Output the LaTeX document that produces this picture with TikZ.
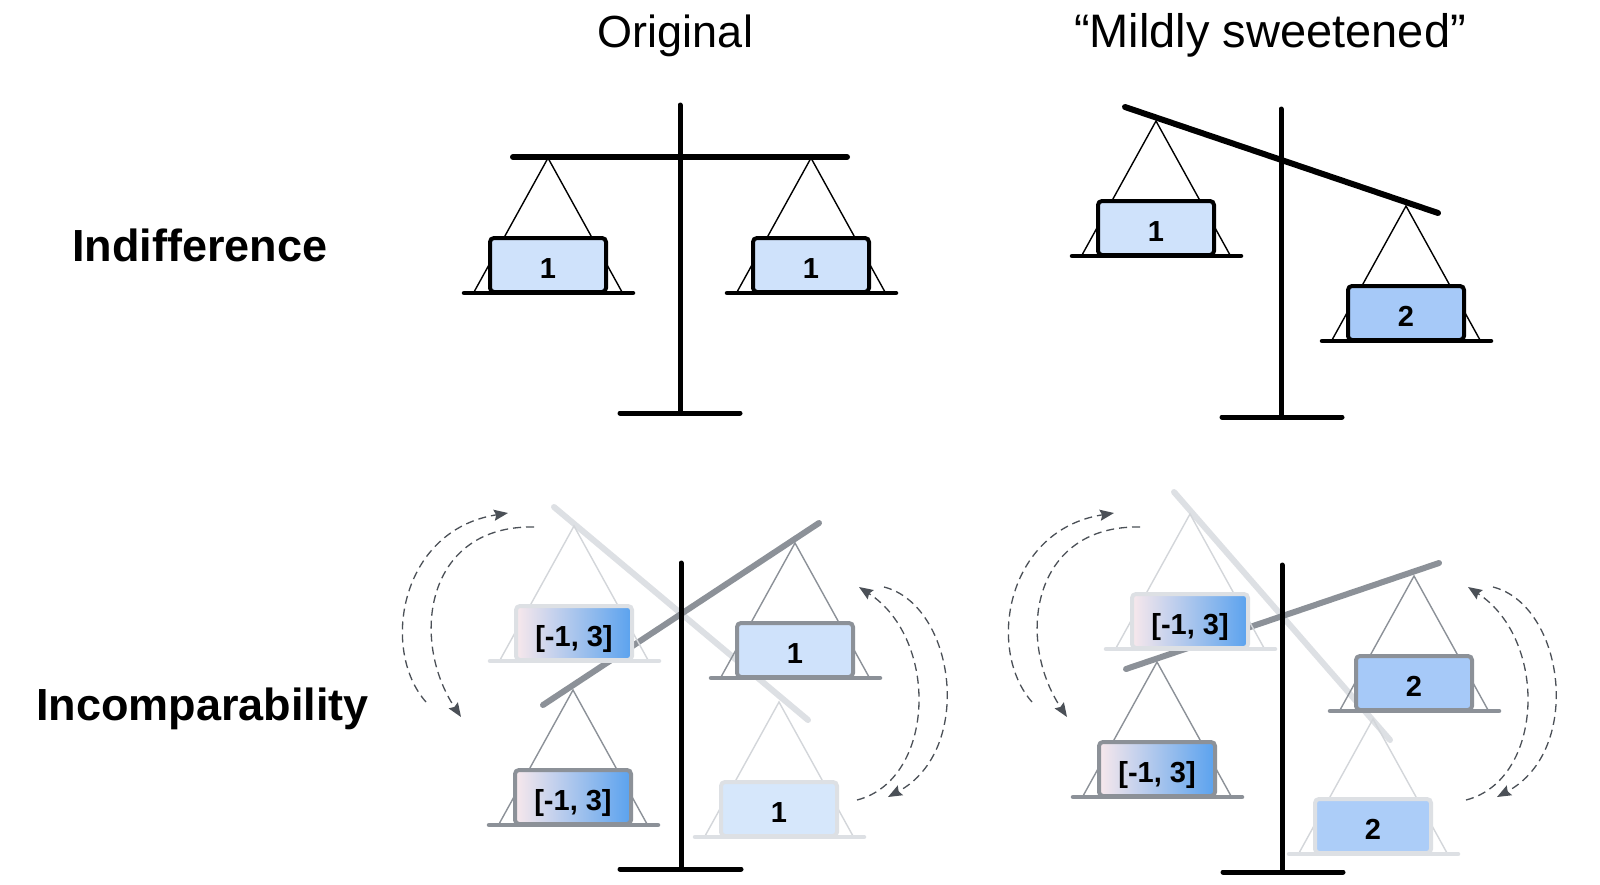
\documentclass[tikz,border=0pt]{standalone}
\usepackage{fontspec}
\setmainfont{Liberation Sans}
\usetikzlibrary{arrows.meta}
\definecolor{darkg}{HTML}{8C9198}
\definecolor{lightg}{HTML}{DDE0E4}
\definecolor{lightstr}{HTML}{D3D6DA}
\definecolor{boxone}{HTML}{CFE2FB}
\definecolor{boxonef}{HTML}{D6E7FB}
\definecolor{boxtwo}{HTML}{A6C9F8}
\definecolor{boxtwof}{HTML}{ACCDF8}
\definecolor{gpink}{HTML}{F8E8EC}
\definecolor{gmid}{HTML}{DCE7F8}
\definecolor{gblue}{HTML}{5AA2EE}
\definecolor{arrowc}{HTML}{4B5057}
\newcommand\drawpan[7]{%
  \draw[strline, draw=#4] (#1-74,#2+134) -- (#1,#2) -- (#1+74,#2+134);
  \draw[panbox, draw=#3, #5] (#1-58,#2+80) rectangle (#1+58,#2+134);
  \draw[platline, draw=#3] (#1-84,#2+135) -- (#1+85,#2+135);
  \node[boxlbl] (#7) at (#1,#2+120) {#6};
}
\newcommand\swaparrows[3]{%
  \coordinate (#3a) at (426+#1,702); \coordinate (#3b) at (508+#1,513);
  \draw[dasharr] (#3a) .. controls (380+#1,650) and (400+#1,530) .. (#3b);
  \coordinate (#3c) at (534+#1,527); \coordinate (#3d) at (461+#1,717);
  \draw[dasharr] (#3c) .. controls (425+#1,525) and (410+#1,640) .. (#3d);
  \coordinate (#3e) at (884+#2,587); \coordinate (#3f) at (888+#2,797);
  \draw[dasharr] (#3e) .. controls (955+#2,605) and (975+#2,750) .. (#3f);
  \coordinate (#3g) at (857+#2,800); \coordinate (#3h) at (859+#2,587);
  \draw[dasharr] (#3g) .. controls (935+#2,780) and (940+#2,640) .. (#3h);
}
\begin{document}
\begin{tikzpicture}[x=1bp,y=-1bp,
  strline/.style={line width=1.4bp},
  panbox/.style={line width=4bp, rounded corners=4bp},
  platline/.style={line width=4.5bp, line cap=round},
  boxlbl/.style={anchor=base, inner sep=0pt, font=\fontsize{29bp}{32bp}\selectfont\bfseries},
  beamline/.style={line width=6bp, line cap=round},
  postline/.style={line width=5bp, line cap=round, draw=black},
  grad/.style={left color=gpink, middle color=gmid, right color=gblue},
  titlelbl/.style={anchor=base, inner sep=0pt, font=\fontsize{45bp}{50bp}\selectfont},
  rowlbl/.style={anchor=base west, inner sep=0pt, font=\fontsize{45bp}{50bp}\selectfont\bfseries},
  dasharr/.style={draw=arrowc, line width=1.3bp, dash pattern=on 8bp off 5bp,
    -{Stealth[length=14bp,width=11bp,inset=2bp]}}
]
\fill[white] (0,0) rectangle (1600,884);
\useasboundingbox (0,0) rectangle (1600,884);

% labels
\node[titlelbl] (orig) at (675.5,47) {Original};
\node[titlelbl, font=\fontsize{47bp}{50bp}\selectfont] (mild) at (1270,47) {“Mildly sweetened”};
\node[rowlbl] (indiff) at (72,261) {Indifference};
\node[rowlbl] (incomp) at (36,720) {Incomparability};

% ---------- top-left: original indifference ----------
\draw[beamline, draw=black] (513,157) -- (847,157);
\drawpan{548}{158}{black}{black}{fill=boxone}{1}{tlA}
\drawpan{811}{158}{black}{black}{fill=boxone}{1}{tlB}
\draw[postline] (680,105) -- (680,413);
\draw[postline] (620,413) -- (740,413);

% ---------- top-right: mildly sweetened indifference ----------
\draw[beamline, draw=black] (1125,107) -- (1438,213);
\drawpan{1156}{121}{black}{black}{fill=boxone}{1}{trA}
\drawpan{1406}{206}{black}{black}{fill=boxtwo}{2}{trB}
\draw[postline] (1281,109) -- (1281,417);
\draw[postline] (1222,417) -- (1342,417);

% ---------- bottom-left: original incomparability ----------
\draw[beamline, draw=lightg] (554,507) -- (808,720);
\draw[beamline, draw=darkg] (543,705) -- (819,523);
\drawpan{574}{526}{lightg}{lightstr}{grad}{[-1, 3]}{blL1}
\drawpan{779}{702}{lightg}{lightstr}{fill=boxonef}{1}{blL2}
\drawpan{573}{690}{darkg}{darkg}{grad}{[-1, 3]}{blD1}
\drawpan{795}{543}{darkg}{darkg}{fill=boxone}{1}{blD2}
\draw[postline] (681,563) -- (681,869);
\draw[postline] (620,869) -- (741,869);

% ---------- bottom-right: sweetened incomparability ----------
\draw[beamline, draw=lightg] (1174,492) -- (1390,740);
\draw[beamline, draw=darkg] (1126,669) -- (1439,563);
\drawpan{1190}{514}{lightg}{lightstr}{grad}{[-1, 3]}{brL1}
\drawpan{1373}{719}{lightg}{lightstr}{fill=boxtwof}{2}{brL2}
\drawpan{1157}{662}{darkg}{darkg}{grad}{[-1, 3]}{brD1}
\drawpan{1414}{576}{darkg}{darkg}{fill=boxtwo}{2}{brD2}
\draw[postline] (1282,565) -- (1282,872);
\draw[postline] (1223,872) -- (1343,872);

% dashed swap arrows
\swaparrows{0}{0}{bl}
\swaparrows{606}{609}{br}
\end{tikzpicture}
\end{document}
